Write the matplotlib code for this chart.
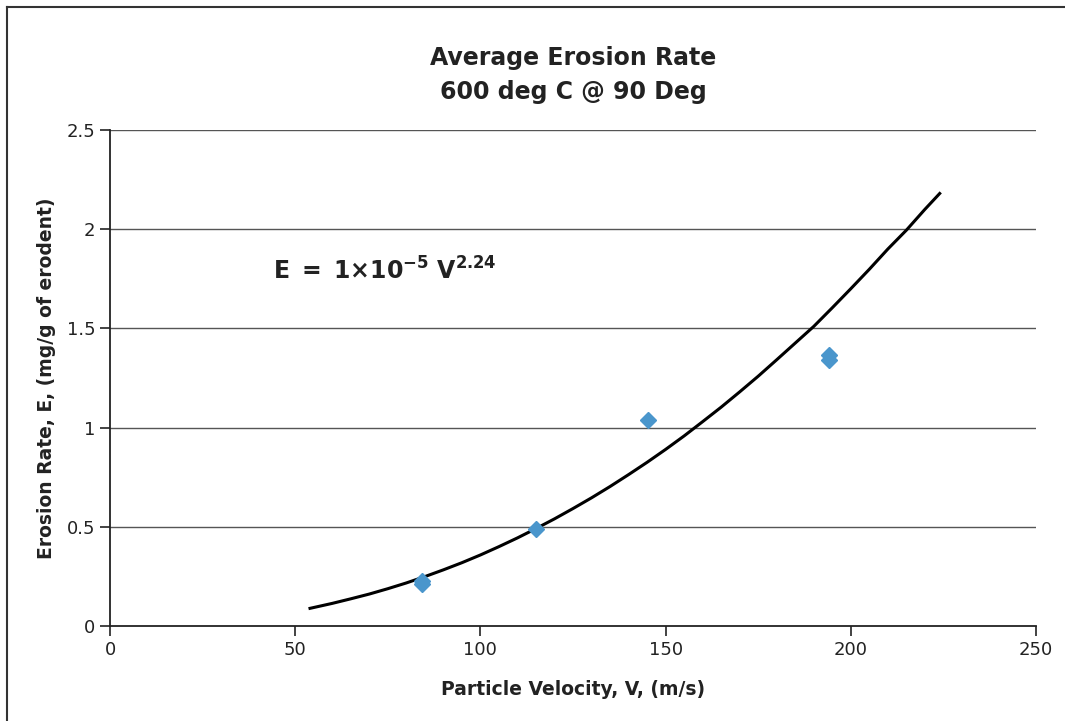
import matplotlib.pyplot as plt
from matplotlib.lines import Line2D

plt.rcParams['font.family'] = ['DejaVu Sans']
plt.rcParams['mathtext.fontset'] = 'dejavusans'
plt.rcParams['mathtext.default'] = 'bf'

# measured points (velocity m/s, erosion mg/g)
vel = [84.2, 84.2, 115.0, 145.2, 194.2, 194.2]
erosion = [0.225, 0.212, 0.489, 1.036, 1.368, 1.340]

# power-law trendline
fit_v = [54, 60, 65, 70, 75, 80, 85, 90, 95, 100, 105, 110, 115, 120, 125,
         130, 135, 140, 145, 150, 155, 160, 165, 170, 175, 180, 185, 190,
         195, 200, 205, 210, 215, 220, 224]
fit_e = [0.089, 0.114, 0.137, 0.161, 0.188, 0.217, 0.249, 0.283, 0.319,
         0.358, 0.400, 0.444, 0.491, 0.540, 0.592, 0.646, 0.703, 0.763,
         0.825, 0.890, 0.958, 1.030, 1.103, 1.180, 1.259, 1.342, 1.426,
         1.510, 1.604, 1.700, 1.798, 1.900, 1.995, 2.100, 2.180]

xticks = [0, 50, 100, 150, 200, 250]
yticks = [0, 0.5, 1, 1.5, 2, 2.5]
ytick_labels = ['0', '0.5', '1', '1.5', '2', '2.5']

fig = plt.figure(figsize=(10.65, 7.21), dpi=100)
ax = fig.add_axes([110/1065, 1 - 626/721, 926/1065, 496/721])

# frame round the chart (left and top edges visible)
fig.add_artist(Line2D([7/1065, 7/1065], [0, 1 - 7/721], transform=fig.transFigure,
                      color='#333333', lw=1.5))
fig.add_artist(Line2D([7/1065, 1], [1 - 7/721, 1 - 7/721], transform=fig.transFigure,
                      color='#333333', lw=1.5))

for y in yticks[1:]:
    ax.axhline(y, color='#555555', lw=1.0, zorder=1)

ax.plot(fit_v, fit_e, color='black', lw=2.2, zorder=3, solid_joinstyle='round')
ax.plot(vel, erosion, linestyle='none', marker='D', markersize=8,
        color='#4a96cc', zorder=4)

ax.set_xlim(0, 250)
ax.set_ylim(0, 2.5)
ax.set_xticks(xticks)
ax.set_xticklabels([str(t) for t in xticks])
ax.set_yticks(yticks)
ax.set_yticklabels(ytick_labels)
ax.tick_params(axis='both', direction='out', length=7, width=1.2,
               labelsize=13, colors='#222222')
ax.tick_params(axis='x', pad=4)

for s in ['top', 'right']:
    ax.spines[s].set_visible(False)
for s in ['left', 'bottom']:
    ax.spines[s].set_color('#222222')
    ax.spines[s].set_linewidth(1.3)

ax.set_xlabel('Particle Velocity, V, (m/s)', fontsize=13.5, fontweight='bold',
              labelpad=15, color='#222222')
ax.set_ylabel('Erosion Rate, E, (mg/g of erodent)', fontsize=13.5,
              fontweight='bold', labelpad=8, color='#222222')

fig.text(573/1065, 1 - 75/721, 'Average Erosion Rate\n600 deg C @ 90 Deg',
         ha='center', va='center', fontsize=17, fontweight='bold',
         color='#222222', linespacing=1.5)

ax.text(44, 1.79, r'$E\ =\ 1{\times}10^{-5}\ V^{2.24}$', fontsize=17,
        color='#222222', va='center', ha='left')

fig.savefig('out.png', dpi=100)
